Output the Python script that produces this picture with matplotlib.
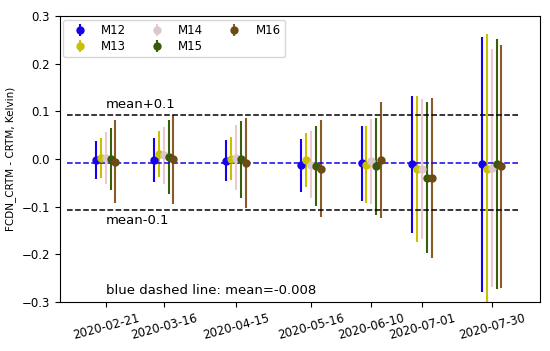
import matplotlib
matplotlib.use("Agg")
import matplotlib.pyplot as plt
import matplotlib.dates as mdates
import numpy as np
from datetime import datetime, timedelta

dates = ["2020-02-21", "2020-03-16", "2020-04-15", "2020-05-16", "2020-06-10", "2020-07-01", "2020-07-30"]
series = ["M12", "M13", "M14", "M15", "M16"]

m12_mean = [-0.002, -0.002, -0.004, -0.013, -0.009, -0.011, -0.011]
m12_err = [0.040, 0.046, 0.043, 0.056, 0.079, 0.144, 0.268]
m13_mean = [0.003, 0.010, 0.001, -0.002, -0.012, -0.021, -0.022]
m13_err = [0.042, 0.048, 0.045, 0.057, 0.081, 0.153, 0.284]
m14_mean = [0.002, 0.008, 0.003, -0.012, -0.005, -0.020, -0.018]
m14_err = [0.055, 0.060, 0.068, 0.070, 0.090, 0.147, 0.250]
m15_mean = [0.000, 0.004, -0.001, -0.015, -0.015, -0.039, -0.011]
m15_err = [0.066, 0.077, 0.080, 0.084, 0.102, 0.158, 0.262]
m16_mean = [-0.006, -0.001, -0.008, -0.020, -0.002, -0.040, -0.015]
m16_err = [0.087, 0.093, 0.094, 0.101, 0.122, 0.168, 0.255]

overall_mean = -0.008

means = [m12_mean, m13_mean, m14_mean, m15_mean, m16_mean]
errs = [m12_err, m13_err, m14_err, m15_err, m16_err]
colors = ["#1500f0", "#c9c000", "#ecc8d2", "#3a5f0c", "#8a5a28"]
marker_colors = ["#1500f0", "#c9c000", "#dcc8cc", "#3a5a0a", "#6e4a14"]
offsets_days = [-4, -2, 0, 2, 4]

dts = [datetime.strptime(d, "%Y-%m-%d") for d in dates]

fig = plt.figure(figsize=(5.5, 3.51), dpi=100)
ax = fig.add_axes([0.109, 0.14, 0.873, 0.814])

for name, mn, er, c, mc, off in zip(series, means, errs, colors, marker_colors, offsets_days):
    xs = [d + timedelta(days=off) for d in dts]
    ax.errorbar(xs, mn, yerr=er, fmt='o', color=mc, mec=mc, mfc=mc, ecolor=c, markersize=5,
                elinewidth=1.5, label=name)

x0 = datetime(2020, 2, 5)
x1 = datetime(2020, 8, 10)
ax.plot([x0, x1], [overall_mean, overall_mean], '--', color='#1500f0', lw=1.1)
ax.plot([x0, x1], [overall_mean + 0.1, overall_mean + 0.1], '--', color='black', lw=1.1)
ax.plot([x0, x1], [overall_mean - 0.1, overall_mean - 0.1], '--', color='black', lw=1.1)

ax.text(dts[0], overall_mean + 0.1 + 0.008, "mean+0.1", fontsize=9.5, ha='left', va='bottom')
ax.text(dts[0], overall_mean - 0.1 - 0.008, "mean-0.1", fontsize=9.5, ha='left', va='top')
ax.text(dts[0], -0.29, "blue dashed line: mean=-0.008", fontsize=9.5, ha='left', va='bottom')

ax.set_xlim(datetime(2020, 2, 2), datetime(2020, 8, 19))
ax.set_ylim(-0.3, 0.3)
ax.set_xticks(dts)
ax.set_xticklabels(dates, rotation=15, fontsize=8.5)
ax.set_yticks([-0.3, -0.2, -0.1, 0.0, 0.1, 0.2, 0.3])
ax.set_yticklabels(["\u22120.3", "\u22120.2", "\u22120.1", "0.0", "0.1", "0.2", "0.3"], fontsize=8.5)
ax.set_ylabel("FCDN_CRTM - CRTM, Kelvin)", fontsize=7.5)

ax.legend(loc='upper left', ncol=3, fontsize=8.5, handletextpad=0.8, columnspacing=1.6,
          labelspacing=0.2, borderaxespad=0.3)

fig.savefig("out.png", dpi=100)
